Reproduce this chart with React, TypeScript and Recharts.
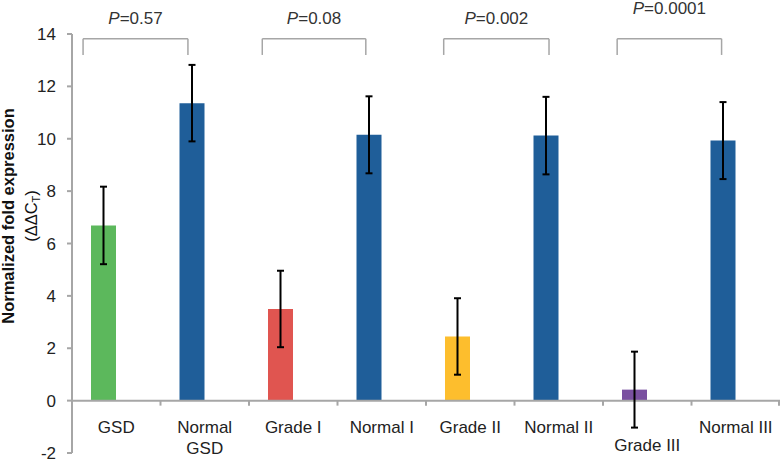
import React from "react";
import {
  BarChart,
  Bar,
  Cell,
  XAxis,
  YAxis,
  ErrorBar,
  ReferenceLine,
} from "recharts";

// values
const categories = [
  "GSD",
  "Normal GSD",
  "Grade I",
  "Normal I",
  "Grade II",
  "Normal II",
  "Grade III",
  "Normal III",
];
const foldValues = [6.69, 11.36, 3.5, 10.15, 2.45, 10.12, 0.42, 9.93];
const foldErrors = [1.48, 1.46, 1.46, 1.47, 1.46, 1.48, 1.45, 1.47];
const barColors = [
  "#5CB85C",
  "#1F5E99",
  "#E05550",
  "#1F5E99",
  "#FDBE2D",
  "#1F5E99",
  "#7A50A0",
  "#1F5E99",
];
const yTicks = [-2, 0, 2, 4, 6, 8, 10, 12, 14];

// significance brackets, in category units along the axis
const pLabels = ["0.57", "0.08", "0.002", "0.0001"];
const bracketStart = [0.125, 2.15, 4.2, 6.16];
const bracketEnd = [1.31, 3.32, 5.39, 7.34];
const bracketTop = 13.82;
const bracketFoot = 13.2;

const data = categories.map((name, i) => ({
  name,
  idx: i + 0.5,
  value: foldValues[i],
  err: foldErrors[i],
  blank: null,
}));

const W = 782;
const H = 462;
const TOP = 34;
const LEFT = 72;
const RIGHT = 2;
const PLOT_H = 419;
const PLOT_W = W - LEFT - RIGHT;
const BAND = PLOT_W / categories.length;
const ZERO_Y = TOP + (14 / 16) * PLOT_H;
const FONT = "'Liberation Sans', Arial, Helvetica, sans-serif";
const AXIS_GREY = "#A6A6A6";

const CatTick = (props: any) => {
  const { x, payload, index } = props;
  const i = index ?? payload.index;
  const label: string = payload.value;
  const dips = foldValues[i] - foldErrors[i] < 0;
  const base = ZERO_Y + 32 + (dips ? 18 : 0);
  const lines = label === "Normal GSD" ? ["Normal", "GSD"] : [label];
  return (
    <g>
      <line x1={x - BAND / 2} x2={x - BAND / 2} y1={ZERO_Y} y2={ZERO_Y + 5} stroke={AXIS_GREY} strokeWidth={2} />
      {i === categories.length - 1 && (
        <line x1={x + BAND / 2 - 1} x2={x + BAND / 2 - 1} y1={ZERO_Y} y2={ZERO_Y + 5} stroke={AXIS_GREY} strokeWidth={2} />
      )}
      <text x={x} y={base} textAnchor="middle" fontSize={17} fontFamily={FONT} fill="#222">
        {lines.map((l, k) => (
          <tspan key={k} x={x} dy={k === 0 ? 0 : 21}>
            {l}
          </tspan>
        ))}
      </text>
    </g>
  );
};

const YLabel = () => {
  const cy = 216;
  return (
    <g fontFamily={FONT} fill="#111">
      <text x={14} y={cy} transform={`rotate(-90, 14, ${cy})`} textAnchor="middle" fontSize={16.5} fontWeight="bold">
        Normalized fold expression
      </text>
      <text x={37} y={cy} transform={`rotate(-90, 37, ${cy})`} textAnchor="middle" fontSize={16.5}>
        (ΔΔC<tspan fontSize={11} dy={3}>T</tspan>
        <tspan dy={-3}>)</tspan>
      </text>
    </g>
  );
};

const PLabel = (i: number) => (props: any) => {
  const vb = props.viewBox || {};
  const cx = vb.x + (vb.width || 0) / 2;
  const y = vb.y - (i === 3 ? 25 : 15);
  return (
    <text x={cx} y={y} textAnchor="middle" fontSize={17} fontFamily={FONT} fill="#333">
      <tspan fontStyle="italic">P</tspan>={pLabels[i]}
    </text>
  );
};

export default function App() {
  return (
    <div style={{ position: "absolute", left: 0, top: 0, background: "#fff" }}>
      <BarChart
        width={W}
        height={H}
        data={data}
        margin={{ top: TOP, right: RIGHT, bottom: 0, left: 0 }}
        barGap={0}
        barSize={25}
      >
        <XAxis
          dataKey="name"
          height={9}
          axisLine={false}
          tickLine={false}
          interval={0}
          tick={(p: any) => <CatTick {...p} />}
        />
        <XAxis xAxisId="br" dataKey="idx" type="number" domain={[0, 8]} hide allowDataOverflow />
        <YAxis
          width={LEFT}
          domain={[-2, 14]}
          ticks={yTicks}
          interval={0}
          axisLine={{ stroke: AXIS_GREY, strokeWidth: 2 }}
          tickLine={{ stroke: AXIS_GREY, strokeWidth: 2 }}
          tickSize={5}
          tickMargin={11}
          tick={{ fontSize: 17, fontFamily: FONT, fill: "#222" }}
          label={<YLabel />}
        />
        <ReferenceLine y={0} stroke={AXIS_GREY} strokeWidth={2} />
        <Bar dataKey="value" isAnimationActive={false}>
          {data.map((d, i) => (
            <Cell key={d.name} fill={barColors[i]} />
          ))}
          <ErrorBar dataKey="err" width={3.5} stroke="#000" strokeWidth={2} direction="y" />
        </Bar>
        <Bar dataKey="blank" fill="transparent" isAnimationActive={false} />
        {pLabels.map((p, i) => (
          <React.Fragment key={p}>
            <ReferenceLine
              xAxisId="br"
              ifOverflow="visible"
              stroke={AXIS_GREY}
              strokeWidth={1.5}
              segment={[
                { x: bracketStart[i], y: bracketFoot },
                { x: bracketStart[i], y: bracketTop },
              ]}
            />
            <ReferenceLine
              xAxisId="br"
              ifOverflow="visible"
              stroke={AXIS_GREY}
              strokeWidth={1.5}
              segment={[
                { x: bracketStart[i], y: bracketTop },
                { x: bracketEnd[i], y: bracketTop },
              ]}
              label={PLabel(i)}
            />
            <ReferenceLine
              xAxisId="br"
              ifOverflow="visible"
              stroke={AXIS_GREY}
              strokeWidth={1.5}
              segment={[
                { x: bracketEnd[i], y: bracketTop },
                { x: bracketEnd[i], y: bracketFoot },
              ]}
            />
          </React.Fragment>
        ))}
      </BarChart>
    </div>
  );
}
